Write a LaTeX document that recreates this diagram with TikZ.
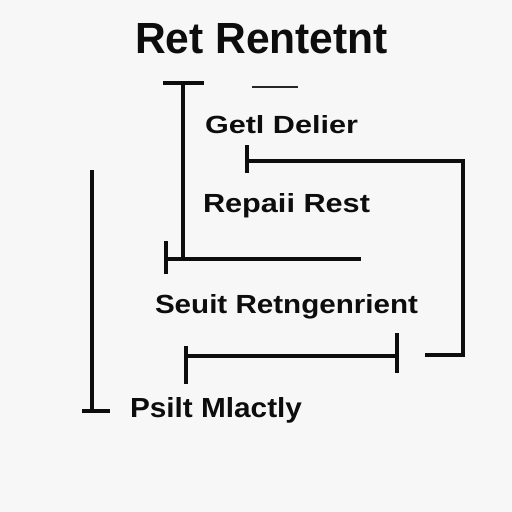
\documentclass[tikz,border=0pt]{standalone}
\usepackage{fontspec}
\setmainfont{Liberation Sans}
\usepackage{graphicx}
\newcommand{\fitlbl}[3]{\resizebox{#1pt}{#2pt}{\textbf{#3}}}
\begin{document}
\begin{tikzpicture}[x=1pt,y=-1pt,
  lbl/.style={anchor=base west,inner sep=0pt,outer sep=0pt,text=black!95},
  wire/.style={draw=black!95,line width=3.3pt,line join=miter,line cap=butt},
  thinwire/.style={draw=black!85,line width=1.7pt}]
\fill[white!97!black] (0,0) rectangle (512,512);
\useasboundingbox (0,0) rectangle (512,512);
% texts
\node[lbl] (title) at (135,53) {\fitlbl{253}{30}{Ret Rentetnt}};
\node[lbl] (get) at (205,133) {\fitlbl{153}{18}{Getl Delier}};
\node[lbl] (rep) at (203,212) {\fitlbl{167}{19}{Repaii Rest}};
\node[lbl] (seu) at (155,313) {\fitlbl{263}{19}{Seuit Retngenrient}};
\node[lbl] (psi) at (130,417) {\fitlbl{172}{20}{Psilt Mlactly}};
% coordinates
\coordinate (t1) at (163,83); \coordinate (t2) at (204,83);
\coordinate (t3) at (183,83); \coordinate (t4) at (183,259);
\coordinate (s1) at (252,87); \coordinate (s2) at (298,87);
\coordinate (a1) at (247,145); \coordinate (a2) at (247,173);
\coordinate (a3) at (247,161); \coordinate (a4) at (463,161);
\coordinate (a5) at (463,355); \coordinate (a6) at (425,355);
\coordinate (b1) at (166,241); \coordinate (b2) at (166,274);
\coordinate (b3) at (166,259); \coordinate (b4) at (361,259);
\coordinate (c1) at (92,170); \coordinate (c2) at (92,411);
\coordinate (c3) at (82,411); \coordinate (c4) at (110,411);
\coordinate (d1) at (186,346); \coordinate (d2) at (186,384);
\coordinate (d3) at (186,356); \coordinate (d4) at (397,356);
\coordinate (d5) at (397,333); \coordinate (d6) at (397,373);
% lines
\draw[wire] (t1) -- (t2);
\draw[wire] (t3) -- (t4);
\draw[thinwire] (s1) -- (s2);
\draw[wire] (a1) -- (a2);
\draw[wire] (a3) -- (a4) -- (a5) -- (a6);
\draw[wire] (b1) -- (b2);
\draw[wire] (b3) -- (b4);
\draw[wire] (c1) -- (c2);
\draw[wire] (c3) -- (c4);
\draw[wire] (d1) -- (d2);
\draw[wire] (d3) -- (d4);
\draw[wire] (d5) -- (d6);
\end{tikzpicture}
\end{document}
